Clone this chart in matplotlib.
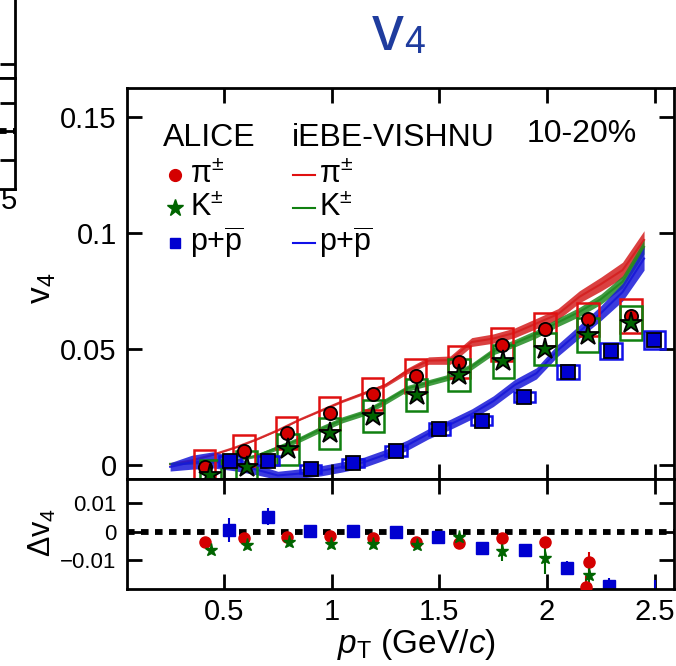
import numpy as np
import matplotlib
matplotlib.use('Agg')
import matplotlib.pyplot as plt
from matplotlib.patches import Rectangle

plt.rcParams['font.family'] = ['Liberation Sans', 'DejaVu Sans']
plt.rcParams['mathtext.fontset'] = 'custom'
plt.rcParams['mathtext.rm'] = 'Liberation Sans'
plt.rcParams['mathtext.it'] = 'Liberation Sans:italic'
plt.rcParams['mathtext.bf'] = 'Liberation Sans:bold'

# ALICE v4, 10-20%
pi_pt = [0.41, 0.594, 0.791, 0.99, 1.19, 1.39, 1.59, 1.79, 1.99, 2.19, 2.39]
pi_v = [-0.0007, 0.0062, 0.0139, 0.0223, 0.0306, 0.0384, 0.0445, 0.0519, 0.0585, 0.0628, 0.0642]
pi_sys = [0.0072, 0.0068, 0.007, 0.007, 0.007, 0.0072, 0.007, 0.007, 0.007, 0.0072, 0.0072]

k_pt = [0.437, 0.605, 0.796, 0.99, 1.193, 1.394, 1.59, 1.797, 1.99, 2.19, 2.39]
k_v = [-0.0045, -0.0007, 0.0068, 0.0137, 0.0211, 0.0302, 0.0388, 0.0447, 0.0501, 0.056, 0.0613]
k_sys = [0.0067, 0.0066, 0.0067, 0.0067, 0.0068, 0.0068, 0.0068, 0.007, 0.007, 0.0072, 0.0073]

p_pt = [0.528, 0.706, 0.902, 1.10, 1.298, 1.50, 1.696, 1.894, 2.096, 2.297, 2.498]
p_v = [0.0017, 0.0019, -0.0017, 0.001, 0.006, 0.0155, 0.0191, 0.0294, 0.0402, 0.0491, 0.0539]
p_sys = [0.002, 0.002, 0.0018, 0.0018, 0.002, 0.0026, 0.002, 0.0022, 0.003, 0.0035, 0.004]

# iEBE-VISHNU bands
hy_pt = [0.25, 0.35, 0.45, 0.55, 0.65, 0.75, 0.85, 0.95, 1.05, 1.15, 1.25, 1.35,
         1.45, 1.55, 1.65, 1.75, 1.85, 1.95, 2.05, 2.15, 2.25, 2.35, 2.45]
hy_pi = [0.0003, 0.002, 0.0045, 0.0075, 0.011, 0.015, 0.0195, 0.0235, 0.0275, 0.031, 0.0345, 0.0405,
         0.045, 0.0452, 0.053, 0.0545, 0.057, 0.061, 0.065, 0.0725, 0.078, 0.084, 0.097]
hy_pi_err = [0.0003, 0.0003, 0.0003, 0.0003, 0.0003, 0.0003, 0.0003, 0.0004, 0.0005, 0.0006, 0.0008, 0.0012,
             0.0016, 0.0018, 0.0019, 0.002, 0.0021, 0.0022, 0.0024, 0.0026, 0.003, 0.0034, 0.004]
hy_k = [0.0005, 0.0008, 0.0012, 0.002, 0.004, 0.0075, 0.011, 0.0155, 0.0195, 0.0225, 0.0275, 0.033,
        0.0355, 0.038, 0.0425, 0.049, 0.0525, 0.0565, 0.0615, 0.066, 0.0715, 0.079, 0.094]
hy_k_err = [0.0004, 0.0004, 0.0004, 0.0005, 0.0007, 0.001, 0.0012, 0.0013, 0.0013, 0.0013, 0.0013, 0.0013,
            0.0013, 0.0013, 0.0014, 0.0015, 0.0016, 0.0017, 0.0018, 0.002, 0.0022, 0.0026, 0.003]
hy_p = [-0.0008, 0.0012, 0.0022, 0.0005, -0.002, -0.0045, -0.0037, -0.0025, -0.0008, 0.0012, 0.0045, 0.0085,
        0.0135, 0.0175, 0.022, 0.0275, 0.0345, 0.0395, 0.0495, 0.0575, 0.0655, 0.0745, 0.089]
hy_p_err = [0.0018, 0.003, 0.0035, 0.003, 0.0022, 0.0018, 0.002, 0.0022, 0.0022, 0.0022, 0.0022, 0.0022,
            0.0022, 0.0022, 0.0022, 0.0023, 0.0024, 0.0024, 0.0026, 0.0028, 0.0032, 0.0038, 0.005]

# Delta v4 (data - hydro)
dpi_pt = [0.41, 0.594, 0.791, 0.99, 1.19, 1.39, 1.59, 1.79, 1.99, 2.196, 2.18]
dpi = [-0.0035, -0.0023, -0.0018, -0.0015, -0.0023, -0.0037, -0.0041, -0.0021, -0.0037, -0.0106, -0.0195]
dpi_err = [0.0008, 0.0008, 0.0008, 0.0008, 0.0008, 0.0008, 0.0008, 0.001, 0.0012, 0.0035, 0.004]
dk_pt = [0.44, 0.605, 0.80, 0.997, 1.193, 1.395, 1.59, 1.79, 1.99, 2.196]
dk = [-0.0065, -0.0047, -0.0035, -0.0043, -0.0045, -0.0047, -0.0018, -0.0067, -0.0094, -0.0153]
dk_err = [0.001, 0.001, 0.001, 0.001, 0.001, 0.001, 0.001, 0.0035, 0.0055, 0.005]
dp_pt = [0.525, 0.706, 0.90, 1.097, 1.30, 1.495, 1.696, 1.897, 2.094, 2.285, 2.50]
dp = [0.0006, 0.0053, 0.0004, 0.0004, 0.0, -0.0018, -0.0059, -0.0065, -0.0127, -0.0192, -0.024]
dp_err = [0.0044, 0.003, 0.0015, 0.0015, 0.0015, 0.0015, 0.0018, 0.002, 0.0025, 0.003, 0.007]

RED, GREEN, BLUE = '#d40000', '#006400', '#0000d0'
BRED, BGREEN, BBLUE = '#d42020', '#228b22', '#1818d8'

W, H = 676, 666
fig = plt.figure(figsize=(W / 100, H / 100), dpi=100)

def px_axes(x0, x1, y0, y1):
    return fig.add_axes([x0 / W, 1 - y1 / H, (x1 - x0) / W, (y1 - y0) / H])

xlim = (0.0474, 2.589)
ylim_top = (-0.00603, 0.1625)
ylim_bot = (-0.02007, 0.01862)
zero_dash = (0, (1.3, 1.1))


def style(ax, size):
    ax.tick_params(direction='in', length=11, width=2, top=True, right=True,
                   labelsize=size, pad=7)
    for s in ax.spines.values():
        s.set_linewidth(2)


# neighbouring panel, cut off at the left edge
nb_top = px_axes(15 - 547.5, 15, -320, 78)
nb_bot = px_axes(15 - 547.5, 15, 78, 188.5)
for a, yl in ((nb_top, ylim_top), (nb_bot, ylim_bot)):
    a.set_xlim(xlim)
    a.set_ylim(yl)
    style(a, 21)
    a.set_xticks([0.5, 1, 1.5, 2, 2.5])
    a.set_xticklabels([])
    a.set_yticklabels([])
nb_top.set_yticks([0])
nb_bot.set_yticks([-0.01, 0, 0.01])
nb_bot.set_yticklabels([])
nb_bot.axhline(0, color='k', lw=4.2, ls=zero_dash)
fig.text(9 / W, 1 - 201 / H, '5', fontsize=21, ha='center', va='center')

ax = px_axes(126.5, 674, 88, 479)
ax2 = px_axes(126.5, 674, 479, 588.5)

# hydro bands
for c, e, col in ((hy_pi, hy_pi_err, BRED), (hy_k, hy_k_err, BGREEN), (hy_p, hy_p_err, BBLUE)):
    c = np.array(c)
    e = np.array(e)
    ax.fill_between(hy_pt, c - e, c + e, color=col, alpha=0.85, lw=0, zorder=1)
    ax.plot(hy_pt, c, color=col, lw=1.5, alpha=0.9, zorder=1)

# systematic boxes
for xs, ys, ss, col in ((pi_pt, pi_v, pi_sys, '#e01010'), (k_pt, k_v, k_sys, '#108010'),
                        (p_pt, p_v, p_sys, '#1010e8')):
    for x, y, s in zip(xs, ys, ss):
        ax.add_patch(Rectangle((x - 0.05, y - s), 0.1, 2 * s, fill=False,
                               edgecolor=col, lw=1.8, zorder=2))

ax.plot(pi_pt, pi_v, 'o', color=RED, mec='k', mew=1.3, ms=9.5, zorder=4)
ax.plot(k_pt, k_v, '*', color=GREEN, mec='k', mew=1.3, ms=16, zorder=4)
ax.plot(p_pt, p_v, 's', color=BLUE, mec='k', mew=1.3, ms=10, zorder=4)

ax.set_xlim(xlim)
ax.set_ylim(ylim_top)
ax.set_xticks([0.5, 1, 1.5, 2, 2.5])
ax.set_xticklabels([])
ax.set_yticks([0, 0.05, 0.1, 0.15])
ax.set_yticklabels(['0', '0.05', '0.1', '0.15'])
style(ax, 21)

# legend, drawn by hand
ax.text(0.0667, 0.872, 'ALICE', transform=ax.transAxes, fontsize=23, va='center')
ax.text(0.3023, 0.872, 'iEBE-VISHNU', transform=ax.transAxes, fontsize=23, va='center')
ax.text(0.7315, 0.882, '10-20%', transform=ax.transAxes, fontsize=23, va='center')
labels = [r'$\mathregular{\pi^{\pm}}$', r'$\mathregular{K^{\pm}}$', r'$\mathregular{p{+}\overline{p}}$']
rows = [0.7775, 0.693, 0.6036]
mk = ['o', '*', 's']
msz = [8.5, 12.5, 7.5]
cols = [RED, GREEN, BLUE]
lcols = ['#e01010', '#108010', '#1010e8']
for lab, yy, m, s, c, lc in zip(labels, rows, mk, msz, cols, lcols):
    ax.plot([0.0886], [yy], m, color=c, ms=s, transform=ax.transAxes, clip_on=False)
    ax.text(0.116, yy, lab, transform=ax.transAxes, fontsize=22, va='center')
    ax.plot([0.304, 0.344], [yy, yy], color=lc, lw=1.5, transform=ax.transAxes)
    ax.text(0.3516, yy, lab, transform=ax.transAxes, fontsize=22, va='center')

# lower panel
ax2.axhline(0, color='k', lw=4.2, ls=zero_dash, zorder=1)
ax2.errorbar(dpi_pt, dpi, yerr=dpi_err, fmt='o', color=RED, ms=8, elinewidth=1.5, capsize=0, zorder=3)
ax2.errorbar(dk_pt, dk, yerr=dk_err, fmt='*', color=GREEN, ms=9.5, elinewidth=1.5, capsize=0, zorder=3)
ax2.errorbar(dp_pt, dp, yerr=dp_err, fmt='s', color=BLUE, ms=8, elinewidth=1.5, capsize=0, zorder=2)
ax2.set_xlim(xlim)
ax2.set_ylim(ylim_bot)
ax2.set_xticks([0.5, 1, 1.5, 2, 2.5])
ax2.set_xticklabels(['0.5', '1', '1.5', '2', '2.5'])
ax2.set_yticks([-0.01, 0, 0.01])
ax2.set_yticklabels(['\u22120.01', '0', '0.01'])
style(ax2, 16)
ax2.tick_params(axis='x', labelsize=21)

fig.text(42 / W, 1 - 288 / H, r'$\mathregular{v_4}$', rotation=90, fontsize=24, ha='center', va='center')
fig.text(42 / W, 1 - 532 / H, r'$\mathregular{\Delta v_4}$', rotation=90, fontsize=22, ha='center', va='center')
fig.text(416 / W, 1 - 645 / H, r'$p_\mathregular{T}$ (GeV/$c$)', fontsize=24, ha='center', va='center')
fig.text(388 / W, 1 - 50 / H, 'v', fontsize=46, color='#1f3c9e', ha='center', va='baseline')
fig.text(415 / W, 1 - 53 / H, '4', fontsize=27, color='#1f3c9e', ha='center', va='baseline')

fig.savefig('out.png', dpi=100)
